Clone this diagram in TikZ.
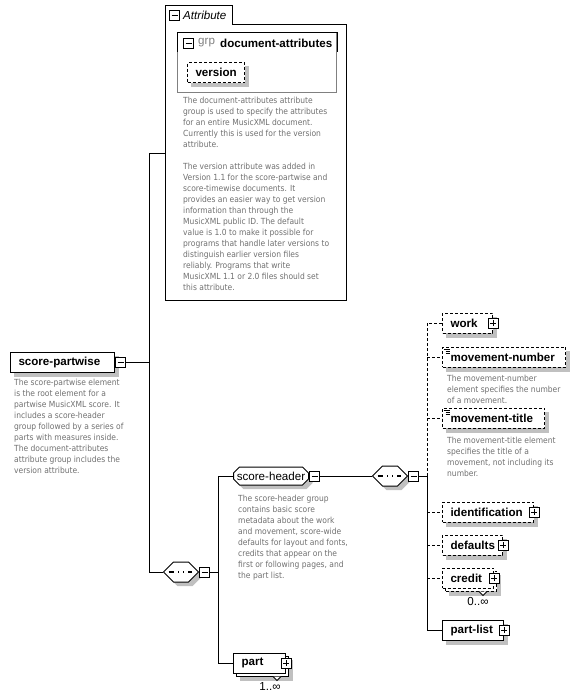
\documentclass[tikz,border=0pt]{standalone}
\usepackage{fontspec}
\setmainfont{Liberation Sans}
\newfontfamily\descfont{DejaVu Sans Condensed}
\usetikzlibrary{shapes.misc,shadows}
\pgfdeclarelayer{bg}
\pgfsetlayers{bg,main}

\definecolor{shadowgray}{RGB}{192,192,192}
\definecolor{descgray}{RGB}{112,112,112}
\definecolor{grpline}{RGB}{128,128,128}
\newcommand{\lblfont}{\fontsize{11.6}{13}\selectfont}
\newcommand{\dscfont}{\descfont\fontsize{8.4}{11}\selectfont}
\newcommand{\compspace}{\rule[-5pt]{0pt}{10pt}\rule{25pt}{0pt}}

\tikzset{
  conn/.style={line width=1pt},
  optconn/.style={conn, dash pattern=on 3pt off 2pt},
  elembox/.style={draw, fill=white, line width=1pt, anchor=west, minimum height=20pt,
    inner xsep=8pt, inner ysep=0pt, align=left, font=\lblfont\bfseries},
  elem/.style={elembox},
  optelem/.style={elem, dash pattern=on 3pt off 2pt},
  multi/.style={copy shadow={shadow xshift=3pt, shadow yshift=-3pt, draw=black, fill=white}, elembox},
  optmulti/.style={multi, dash pattern=on 3pt off 2pt},
  simple/.style={path picture={
    \draw[solid, line width=0.8pt] ([xshift=1pt,yshift=-2pt]path picture bounding box.north west) -- ++(6pt,0pt);
    \draw[solid, line width=0.8pt] ([xshift=3pt,yshift=-4pt]path picture bounding box.north west) -- ++(4pt,0pt);
    \draw[solid, line width=0.8pt] ([xshift=3pt,yshift=-6pt]path picture bounding box.north west) -- ++(4pt,0pt);}},
  pmbox/.style={draw, fill=white, line width=1pt, minimum size=10pt, inner sep=0pt},
  pmminus/.style={pmbox, anchor=west, path picture={
    \draw[solid, line width=1pt] ([xshift=2pt]path picture bounding box.west) -- ([xshift=-2pt]path picture bounding box.east);}},
  pmplus/.style={pmbox, path picture={
    \draw[solid, line width=1pt] ([xshift=2pt]path picture bounding box.west) -- ([xshift=-2pt]path picture bounding box.east);
    \draw[solid, line width=1pt] ([yshift=2pt]path picture bounding box.south) -- ([yshift=-2pt]path picture bounding box.north);}},
  compshape/.style={chamfered rectangle, chamfered rectangle sep=5pt, inner sep=0pt},
  compositor/.style={compshape, draw, fill=white, line width=1pt, anchor=west,
    path picture={
    \draw[line width=1.2pt] ([xshift=5pt]path picture bounding box.west) -- ([xshift=-7pt]path picture bounding box.east);
    \foreach \dx in {-5,0,5}
      \fill ([xshift=\dx pt]path picture bounding box.center) +(-2pt,-1.8pt) rectangle +(2pt,1.8pt);}},
  grpshape/.style={chamfered rectangle, chamfered rectangle sep=3pt, minimum width=75pt, minimum height=18pt, inner sep=0pt},
  grpref/.style={grpshape, draw, fill=white, line width=1pt, anchor=west, font=\lblfont},
  desc/.style={anchor=north west, inner sep=0pt, align=left, font=\dscfont, text=descgray},
  occ/.style={inner sep=0pt, font=\lblfont},
}

\begin{document}
\begin{tikzpicture}[x=1pt,y=-1pt]
\useasboundingbox (0,0) rectangle (580,699);

% attribute group
\node[minimum width=181pt, minimum height=295pt, anchor=north west, inner sep=0pt] (attr) at (165,5) {};
\coordinate (tabend) at (232,24);
\draw[conn] (attr.south west) -- (attr.north west) -- (attr.north west -| tabend) -- (tabend) -- (tabend -| attr.east) -- (attr.south east) -- cycle;
\node[pmminus] (attrm) at (169,15.5) {};
\node[anchor=west, inner sep=0pt, font=\lblfont\itshape] (attrlbl) at (183,15) {Attribute};

\node[draw=grpline, line width=1pt, minimum width=159pt, minimum height=60pt, anchor=north west, inner sep=0pt] (grp) at (177,32) {};
\coordinate (grpsep) at (0,52);
\draw[conn] (grp.west |- grpsep) -- (grp.north west) -- (grp.north east) -- (grp.east |- grpsep);
\node[pmminus] (grpm) at (183,43) {};
\node[anchor=west, inner sep=0pt, font=\lblfont, text=grpline] (grplbl) at (198,43) {grp};
\node[anchor=west, inner sep=0pt, font=\lblfont\bfseries] (grpname) at (220,43) {document-attributes};
\node[optelem, text width=41pt] (version) at (187,72.5) {version};

\node[desc] (attrdesc) at (183,97) {The document-attributes attribute\\
group is used to specify the attributes\\
for an entire MusicXML document.\\
Currently this is used for the version\\
attribute.\\[11pt]
The version attribute was added in\\
Version 1.1 for the score-partwise and\\
score-timewise documents. It\\
provides an easier way to get version\\
information than through the\\
MusicXML public ID. The default\\
value is 1.0 to make it possible for\\
programs that handle later versions to\\
distinguish earlier version files\\
reliably. Programs that write\\
MusicXML 1.1 or 2.0 files should set\\
this attribute.};

% root element
\node[elem, text width=88pt] (spw) at (10,362) {score-partwise};
\node[pmminus] (spwm) at (spw.east) {};
\node[desc] (spwdesc) at (14,379) {The score-partwise element\\
is the root element for a\\
partwise MusicXML score. It\\
includes a score-header\\
group followed by a series of\\
parts with measures inside.\\
The document-attributes\\
attribute group includes the\\
version attribute.};

% outer sequence
\node[compositor] (seq1) at (163,572) {\compspace};
\node[pmminus] (seq1m) at (seq1.east) {};

\node[grpref] (sh) at (233,476) {score-header};
\node[pmminus] (shm) at (sh.east) {};
\node[desc] (shdesc) at (238,495) {The score-header group\\
contains basic score\\
metadata about the work\\
and movement, score-wide\\
defaults for layout and fonts,\\
credits that appear on the\\
first or following pages, and\\
the part list.};

\node[multi, text width=36pt] (part) at (233,663) {part};
\node[pmplus] (partp) at (part.east) {};
\node[occ] (partocc) at (270,687) {1..∞};
\draw[conn, fill=white] ([xshift=-5pt,yshift=-3pt]part.south east) -- ++(-4pt,-4pt) -- ++(-4pt,4pt);

% inner sequence
\node[compositor] (seq2) at (372,476) {\compspace};
\node[pmminus] (seq2m) at (seq2.east) {};

\node[optelem, text width=34pt] (work) at (442,323) {work};
\node[pmplus] (workp) at (work.east) {};
\node[optelem, simple, text width=107pt] (movnum) at (442,357) {movement-number};
\node[desc] (movnumdesc) at (447,375) {The movement-number\\
element specifies the number\\
of a movement.};
\node[optelem, simple, text width=86pt] (movtitle) at (442,418) {movement-title};
\node[desc] (movtitledesc) at (447,437) {The movement-title element\\
specifies the title of a\\
movement, not including its\\
number.};
\node[optelem, text width=75pt] (ident) at (442,512) {identification};
\node[pmplus] (identp) at (ident.east) {};
\node[optelem, text width=44pt] (defaults) at (442,545) {defaults};
\node[pmplus] (defaultsp) at (defaults.east) {};
\node[optmulti, text width=35pt] (credit) at (442,578) {credit};
\node[pmplus] (creditp) at (credit.east) {};
\node[occ] (creditocc) at (478,601) {0..∞};
\draw[conn, fill=white] ([xshift=-7pt,yshift=-3pt]credit.south east) -- ++(-4pt,-4pt) -- ++(-4pt,4pt);
\node[elem, text width=45pt] (partlist) at (442,630) {part-list};
\node[pmplus] (partlistp) at (partlist.east) {};

% shadows
\begin{pgfonlayer}{bg}
\foreach \n in {version,spw,work,movnum,movtitle,ident,defaults,partlist}
  \fill[shadowgray] ([shift={(4pt,-4pt)}]\n.south west) rectangle ([shift={(4pt,-4pt)}]\n.north east);
\foreach \n in {part,credit}
  \fill[shadowgray] ([shift={(7pt,-7pt)}]\n.south west) rectangle ([shift={(7pt,-7pt)}]\n.north east);
\node[compshape, fill=shadowgray] at ([shift={(4pt,-4pt)}]seq1.center) {\compspace};
\node[compshape, fill=shadowgray] at ([shift={(4pt,-4pt)}]seq2.center) {\compspace};
\node[grpshape, fill=shadowgray, font=\lblfont] at ([shift={(4pt,-4pt)}]sh.center) {\phantom{score-header}};
\end{pgfonlayer}

% connectors
\coordinate (t1) at (149,153);
\coordinate (t2) at (149,572);
\draw[conn] (attr.west |- t1) -- (t1) -- (t2) -- (seq1.west);
\draw[conn] (spwm.east) -- (spwm.east -| t1);
\coordinate (t3) at (218,476);
\coordinate (t4) at (218,663);
\draw[conn] (seq1m.east) -- (seq1m.east -| t3);
\draw[conn] (sh.west) -- (t3) -- (t4) -- (part.west);
\draw[conn] (shm.east) -- (seq2.west);
\coordinate (r1) at (427,323);
\coordinate (r2) at (427,630);
\draw[conn] (seq2m.east) -- (seq2m.east -| r1) -- (r2) -- (partlist.west);
\draw[optconn] (seq2m.east -| r1) -- (r1) -- (work.west);
\draw[optconn] (movnum.west -| r1) -- (movnum.west);
\draw[optconn] (movtitle.west -| r1) -- (movtitle.west);
\draw[optconn] (ident.west -| r1) -- (ident.west);
\draw[optconn] (defaults.west -| r1) -- (defaults.west);
\draw[optconn] (credit.west -| r1) -- (credit.west);
\end{tikzpicture}
\end{document}
